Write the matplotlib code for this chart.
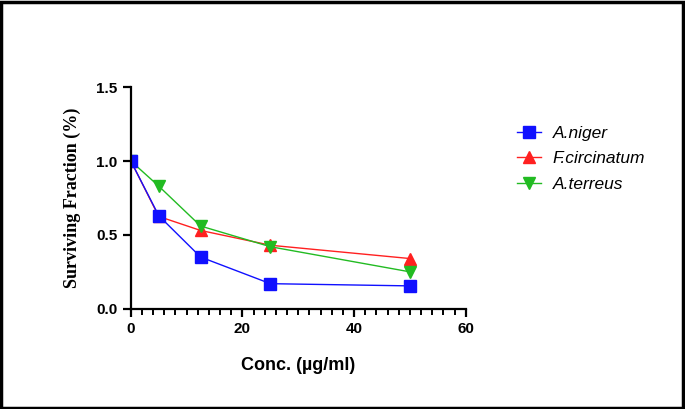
import numpy as np
import matplotlib
matplotlib.use("Agg")
import matplotlib.pyplot as plt
import matplotlib.patches as ptc
from matplotlib.ticker import MultipleLocator

# Data
conc = [0, 5, 12.5, 25, 50]
niger = [1.0, 0.63, 0.35, 0.17, 0.155]
circinatum = [1.0, 0.625, 0.53, 0.43, 0.34]
terreus = [1.0, 0.83, 0.56, 0.42, 0.25]
names = ["A.niger", "F.circinatum", "A.terreus"]

fig = plt.figure(figsize=(6.85, 4.09), dpi=100)
ax = fig.add_axes([0.191, 0.245, 0.489, 0.542])

ax.plot(conc, circinatum, color='#ff2020', marker='^', markersize=8, linewidth=1, label=names[1])
ax.plot(conc, terreus, color='#22bb22', marker='v', markersize=8, linewidth=1, label=names[2])
ax.plot(conc, niger, color='#1010ff', marker='s', markersize=8, linewidth=1, label=names[0])

ax.set_xlim(0, 60)
ax.set_ylim(0, 1.5)
ax.xaxis.set_major_locator(MultipleLocator(20))
ax.xaxis.set_minor_locator(MultipleLocator(2))
ax.yaxis.set_major_locator(MultipleLocator(0.5))
ax.yaxis.set_major_formatter(matplotlib.ticker.FormatStrFormatter('%.1f'))

for s in ['top', 'right']:
	ax.spines[s].set_visible(False)
for s in ['left', 'bottom']:
	ax.spines[s].set_linewidth(1.6)
ax.tick_params(which='major', length=6, width=1.6, labelsize=11)
ax.tick_params(which='minor', length=4, width=1.4)
for lab in ax.get_xticklabels() + ax.get_yticklabels():
	lab.set_fontweight('bold')
	lab.set_family('Liberation Sans')

ax.set_xlabel("Conc. (µg/ml)", fontsize=13, fontweight='bold', family='Liberation Sans', labelpad=15)
ax.set_ylabel("Surviving Fraction (%)", fontsize=13, fontweight='bold', family='Liberation Serif', labelpad=11)

# legend in the order of the reference
h, l = ax.get_legend_handles_labels()
order = [2, 0, 1]
leg = fig.legend([h[i] for i in order], [l[i] for i in order], loc='upper left',
	bbox_to_anchor=(0.755, 0.693), frameon=False, handlelength=1.35, handletextpad=0.7,
	borderpad=0, borderaxespad=0, labelspacing=0.61,
	prop={'family': 'Liberation Sans', 'style': 'italic', 'size': 12.5})

# black frame around the picture
fig.patches.append(ptc.Rectangle((0.002, 0.003), 0.995, 0.993, transform=fig.transFigure,
	fill=False, edgecolor='k', linewidth=2.5))

fig.savefig("out.png", dpi=100)
